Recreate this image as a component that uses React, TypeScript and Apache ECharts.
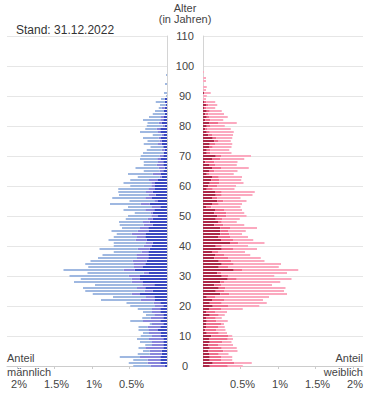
import React, { useEffect, useRef } from "react";
import * as echarts from "echarts";

const ages: string[] = Array.from({ length: 111 }, (_, i) => String(i));
const xTickValues = [0.5, 1, 1.5, 2];
const ageLabelStep = 10;

// Anteil in %, index = Alter (0..100)
const maleDark = [
  0.03, 0.09, 0.09, 0.09, 0.07, 0.07, 0.05, 0.05, 0.05, 0.05,
  0.08, 0.08, 0.12, 0.09, 0.05, 0.09, 0.05, 0.05, 0.09, 0.09,
  0.05, 0.09, 0.16, 0.17, 0.36, 0.19, 0.29, 0.17, 0.32, 0.36,
  0.36, 0.24, 0.43, 0.32, 0.29, 0.27, 0.25, 0.25, 0.25, 0.23,
  0.2, 0.19, 0.27, 0.29, 0.28, 0.24, 0.25, 0.19, 0.23, 0.19,
  0.12, 0.19, 0.17, 0.09, 0.23, 0.12, 0.2, 0.15, 0.19, 0.16,
  0.16, 0.16, 0.12, 0.07, 0.08, 0.05, 0.03, 0.05, 0.05, 0.08,
  0.05, 0.04, 0.03, 0.05, 0.07, 0.07, 0.08, 0.04, 0.09, 0.09,
  0.03, 0.07, 0.05, 0.04, 0.03, 0.04, 0.03, 0.013, 0.03, 0.03,
  0, 0, 0, 0, 0, 0, 0, 0, 0, 0, 0,
];
const maleMid = [
  0.19, 0.17, 0.17, 0.27, 0.16, 0.16, 0.24, 0.15, 0.15, 0.19,
  0.12, 0.16, 0.13, 0.17, 0.15, 0.23, 0.17, 0.12, 0.11, 0.11,
  0.11, 0.09, 0.19, 0.11, 0.11, 0.11, 0.11, 0.16, 0.15, 0.11,
  0.15, 0.07, 0.15, 0.12, 0.16, 0.19, 0.15, 0.16, 0.09, 0.16,
  0.11, 0.09, 0.15, 0.11, 0.19, 0.15, 0.11, 0.12, 0.09, 0.07,
  0.09, 0.03, 0.12, 0.11, 0.12, 0.05, 0.09, 0.09, 0.09, 0.09,
  0.05, 0.05, 0.12, 0.03, 0.11, 0.05, 0.08, 0.09, 0.07, 0.05,
  0.05, 0.01, 0.04, 0, 0.05, 0.03, 0.03, 0.03, 0.03, 0.05,
  0.03, 0.04, 0.04, 0.04, 0, 0, 0.04, 0, 0, 0,
  0, 0, 0, 0, 0, 0, 0, 0, 0, 0, 0,
];
const maleLight = [
  0.23, 0.25, 0.19, 0.27, 0.16, 0.09, 0.09, 0.09, 0.16, 0.16,
  0.15, 0.08, 0.13, 0.12, 0.03, 0.17, 0.11, 0.11, 0.12, 0.19,
  0.33, 0.36, 0.53, 0.44, 0.52, 0.79, 0.72, 0.63, 0.77, 0.68,
  0.79, 0.75, 0.8, 0.61, 0.64, 0.56, 0.52, 0.45, 0.37, 0.51,
  0.4, 0.43, 0.36, 0.31, 0.2, 0.35, 0.24, 0.32, 0.32, 0.29,
  0.31, 0.21, 0.29, 0.32, 0.41, 0.33, 0.44, 0.4, 0.37, 0.4,
  0.28, 0.37, 0.25, 0.29, 0.33, 0.21, 0.31, 0.17, 0.19, 0.23,
  0.25, 0.27, 0.2, 0.17, 0.19, 0.16, 0.21, 0.12, 0.24, 0.15,
  0.21, 0.15, 0.23, 0.16, 0.16, 0.12, 0.04, 0.08, 0.12, 0.05,
  0.013, 0.04, 0, 0, 0.027, 0, 0, 0.013, 0, 0, 0,
];
const femaleDark = [
  0.09, 0.13, 0.09, 0.09, 0.08, 0.07, 0.09, 0.07, 0.09, 0.08,
  0.11, 0.05, 0.03, 0.04, 0.04, 0.05, 0.04, 0.09, 0.04, 0.08,
  0.13, 0.09, 0.12, 0.05, 0.23, 0.17, 0.21, 0.15, 0.23, 0.33,
  0.25, 0.19, 0.41, 0.21, 0.25, 0.21, 0.15, 0.16, 0.12, 0.25,
  0.17, 0.36, 0.24, 0.2, 0.23, 0.23, 0.23, 0.15, 0.2, 0.17,
  0.19, 0.15, 0.16, 0.04, 0.12, 0.19, 0.12, 0.17, 0.16, 0.05,
  0.07, 0.09, 0.11, 0.12, 0.05, 0.08, 0.12, 0.08, 0.03, 0.12,
  0.17, 0.05, 0.05, 0.08, 0.09, 0.15, 0.13, 0.07, 0.05, 0.03,
  0.05, 0.08, 0.03, 0.05, 0.03, 0.05, 0.013, 0.04, 0.013, 0,
  0, 0.013, 0, 0, 0, 0, 0, 0, 0, 0, 0,
];
const femaleMid = [
  0.24, 0.29, 0.15, 0.15, 0.13, 0.2, 0.16, 0.13, 0.17, 0.25,
  0.23, 0.16, 0.15, 0.16, 0.2, 0.13, 0.13, 0.12, 0.12, 0.16,
  0.21, 0.16, 0.16, 0.11, 0.12, 0.11, 0.09, 0.09, 0.05, 0.12,
  0.09, 0.05, 0.11, 0.13, 0.16, 0.17, 0.19, 0.12, 0.08, 0.15,
  0.08, 0.11, 0.16, 0.16, 0.12, 0.11, 0.13, 0.12, 0.05, 0.09,
  0.12, 0.16, 0.12, 0.07, 0.09, 0.08, 0.07, 0.08, 0.09, 0.08,
  0.12, 0.13, 0.11, 0.09, 0.03, 0.07, 0.12, 0.08, 0.12, 0.11,
  0.07, 0.05, 0.05, 0.05, 0.07, 0.05, 0.05, 0.05, 0.04, 0.03,
  0.05, 0.12, 0.07, 0.03, 0.04, 0.04, 0.03, 0.03, 0.03, 0,
  0, 0, 0, 0, 0, 0, 0, 0, 0, 0, 0,
];
const femaleLight = [
  0.2, 0.23, 0.15, 0.15, 0.13, 0.19, 0.2, 0.2, 0.12, 0.07,
  0.05, 0.11, 0.12, 0.09, 0.04, 0.15, 0.08, 0.08, 0.16, 0.29,
  0.41, 0.6, 0.52, 0.72, 0.77, 0.8, 0.8, 0.68, 0.75, 0.73,
  0.61, 0.88, 0.75, 0.67, 0.63, 0.44, 0.43, 0.35, 0.36, 0.32,
  0.35, 0.35, 0.27, 0.24, 0.17, 0.23, 0.36, 0.28, 0.2, 0.23,
  0.27, 0.24, 0.24, 0.39, 0.31, 0.31, 0.31, 0.41, 0.44, 0.29,
  0.25, 0.32, 0.29, 0.31, 0.33, 0.31, 0.37, 0.29, 0.31, 0.32,
  0.4, 0.28, 0.25, 0.25, 0.23, 0.17, 0.21, 0.28, 0.32, 0.31,
  0.19, 0.25, 0.17, 0.25, 0.21, 0.16, 0.12, 0.12, 0.12, 0.04,
  0.05, 0.09, 0.04, 0.05, 0, 0.04, 0.04, 0, 0.013, 0, 0,
];

const FONT = "'Liberation Sans', Arial, sans-serif";
const TXT = "#444";
const AX_MAX = 2.1333;

export default function App() {
  const ref = useRef<HTMLDivElement>(null);
  useEffect(() => {
    if (!ref.current) return;
    const chart = echarts.init(ref.current, undefined, { renderer: "svg" });

    const yBase = (gridIndex: number, pos: "left" | "right", showLabel: boolean) => ({
      type: "category",
      gridIndex,
      data: ages,
      boundaryGap: false,
      position: pos,
      axisLine: { show: true, lineStyle: { color: "#d4d4d4" } },
      axisTick: { show: false },
      axisLabel: {
        show: showLabel,
        interval: ageLabelStep - 1,
        align: "center",
        margin: 18,
        color: TXT,
        fontSize: 11,
        fontFamily: FONT,
      },
      splitLine: { show: true, interval: ageLabelStep - 1, lineStyle: { color: "#e6e6e6" } },
    });

    const xBase = (gridIndex: number, inverse: boolean) => ({
      type: "value",
      gridIndex,
      inverse,
      min: 0,
      max: AX_MAX,
      interval: 0.5,
      position: "bottom",
      axisLine: { show: true, lineStyle: { color: "#cccccc" } },
      axisTick: { show: true, length: 3, customValues: xTickValues, lineStyle: { color: "#cccccc" } },
      splitLine: { show: false },
      axisLabel: {
        customValues: xTickValues,
        formatter: (v: number) => (v === 0 || v > 2.01 ? "" : v + "%"),
        margin: 12,
        color: TXT,
        fontSize: 11,
        fontFamily: FONT,
        padding: [0, 0, 0, 4],
      },
    });

    const bar = (name: string, data: number[], color: string, xi: number, stack: string) => ({
      name,
      type: "bar",
      xAxisIndex: xi,
      yAxisIndex: xi,
      stack,
      data,
      barWidth: 2,
      itemStyle: { color },
      emphasis: { disabled: true },
    });

    const txt = (text: string, x: number, y: number, align: string, size = 11, fill = TXT) => ({
      type: "text",
      x,
      y,
      style: { text, fontSize: size, fontFamily: FONT, fill, align, verticalAlign: "top" },
    });

    chart.setOption({
      animation: false,
      grid: [
        { left: 7, right: 208, top: 36, bottom: 50 },
        { left: 203, right: 12, top: 36, bottom: 50 },
      ],
      xAxis: [xBase(0, true), xBase(1, false)],
      yAxis: [yBase(0, "right", true), yBase(1, "left", false)],
      series: [
        bar("m1", maleDark, "#3a48c0", 0, "m"),
        bar("m2", maleMid, "#8a86db", 0, "m"),
        bar("m3", maleLight, "#9fb8e1", 0, "m"),
        bar("w1", femaleDark, "#ad2848", 1, "w"),
        bar("w2", femaleMid, "#ef6f8f", 1, "w"),
        bar("w3", femaleLight, "#fba9bf", 1, "w"),
      ],
      graphic: [
        txt("Alter", 185, 2, "center"),
        txt("(in Jahren)", 185, 13, "center"),
        txt("Stand: 31.12.2022", 16, 24, "left", 12, "#333"),
        txt("Anteil", 7, 352, "left"),
        txt("männlich", 7, 366, "left"),
        txt("Anteil", 363, 352, "right"),
        txt("weiblich", 363, 366, "right"),
      ],
    });
    return () => chart.dispose();
  }, []);
  return (
    <div
      ref={ref}
      style={{ position: "absolute", left: 0, top: 0, width: 375, height: 416 }}
    />
  );
}
